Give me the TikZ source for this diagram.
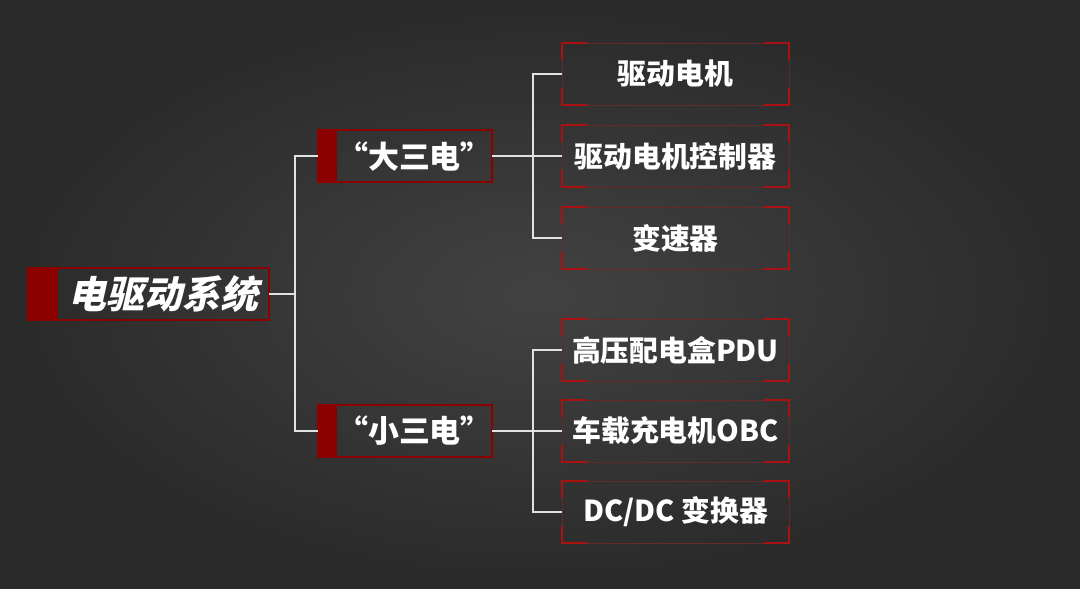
\documentclass[tikz,border=0pt]{standalone}
\usepackage{fontspec}
\newfontfamily\cjk{Noto Sans CJK SC}
\newfontfamily\cjkslant{Noto Sans CJK SC}[FakeSlant=0.22]
\definecolor{bgmid}{RGB}{66,66,66}
\definecolor{bgedge}{RGB}{42,42,42}
\definecolor{deepred}{RGB}{140,0,0}
\definecolor{cornerred}{RGB}{170,18,18}
\definecolor{edgered}{RGB}{100,42,42}
\definecolor{wire}{RGB}{225,225,225}

\begin{document}
\begin{tikzpicture}[x=0.025cm, y=-0.025cm,
    every node/.style={text=white, font=\cjk\bfseries, inner sep=0pt},
    rootbox/.style={minimum width=5.275cm, minimum height=1.28cm, font=\cjkslant\bfseries\fontsize{27}{30}\selectfont},
    midbox/.style={minimum width=3.725cm, minimum height=1.3cm, font=\cjk\bfseries\fontsize{22}{26}\selectfont},
    leafbox/.style={draw=edgered, line width=0.6pt, minimum width=5.675cm, minimum height=1.55cm, font=\cjk\bfseries\fontsize{20.5}{24}\selectfont},
    wireline/.style={draw=wire, line width=0.9pt}]
  % 背景
  \shade[inner color=bgmid, outer color=bgedge] (0,0) rectangle (1080,588);
  \useasboundingbox (0,0) rectangle (1080,588);

  % 根节点
  \node[rootbox] (evsys) at (163.5,294) {电驱动系统};
  \fill[deepred] ([xshift=-0.75cm]evsys.north west) rectangle (evsys.south west);
  \draw[deepred, line width=1.4pt] ([xshift=-0.75cm]evsys.north west) rectangle (evsys.south east);

  % 第二层
  \node[midbox] (bigthree) at (414.5,156) {“大三电”};
  \node[midbox] (smallthree) at (414.5,431) {“小三电”};
  \foreach \n in {bigthree, smallthree} {
    \fill[deepred] ([xshift=-0.475cm]\n.north west) rectangle (\n.south west);
    \draw[deepred, line width=1.4pt] ([xshift=-0.475cm]\n.north west) rectangle (\n.south east);
  }

  % 第三层
  \node[leafbox] (motor) at (675.5,74) {驱动电机};
  \node[leafbox] (mcu) at (675.5,156) {驱动电机控制器};
  \node[leafbox] (gearbox) at (675.5,238) {变速器};
  \node[leafbox] (pdu) at (675.5,350) {高压配电盒PDU};
  \node[leafbox] (obc) at (675.5,431) {车载充电机OBC};
  \node[leafbox] (dcdc) at (675.5,512) {DC/DC 变换器};
  \foreach \n in {motor, mcu, gearbox, pdu, obc, dcdc} {
    \draw[cornerred, line width=1.4pt] ([xshift=0.625cm]\n.north west) -- (\n.north west) -- ([yshift=-0.425cm]\n.north west);
    \draw[cornerred, line width=1.4pt] ([xshift=0.625cm]\n.south west) -- (\n.south west) -- ([yshift=0.425cm]\n.south west);
    \draw[cornerred, line width=1.4pt] ([xshift=-0.625cm]\n.north east) -- (\n.north east) -- ([yshift=-0.425cm]\n.north east);
    \draw[cornerred, line width=1.4pt] ([xshift=-0.625cm]\n.south east) -- (\n.south east) -- ([yshift=0.425cm]\n.south east);
  }

  % 连线
  \coordinate (trunk) at (295,294);
  \coordinate (bigjoint) at (533,156);
  \coordinate (smalljoint) at (533,431);
  \draw[wireline] (evsys.east) -- (trunk);
  \draw[wireline] ([xshift=-0.475cm]bigthree.west) -| (trunk) |- ([xshift=-0.475cm]smallthree.west);
  \draw[wireline] (bigthree.east) -- (bigjoint) -- (mcu.west);
  \draw[wireline] (motor.west) -| (bigjoint) |- (gearbox.west);
  \draw[wireline] (smallthree.east) -- (smalljoint) -- (obc.west);
  \draw[wireline] (pdu.west) -| (smalljoint) |- (dcdc.west);
\end{tikzpicture}
\end{document}
